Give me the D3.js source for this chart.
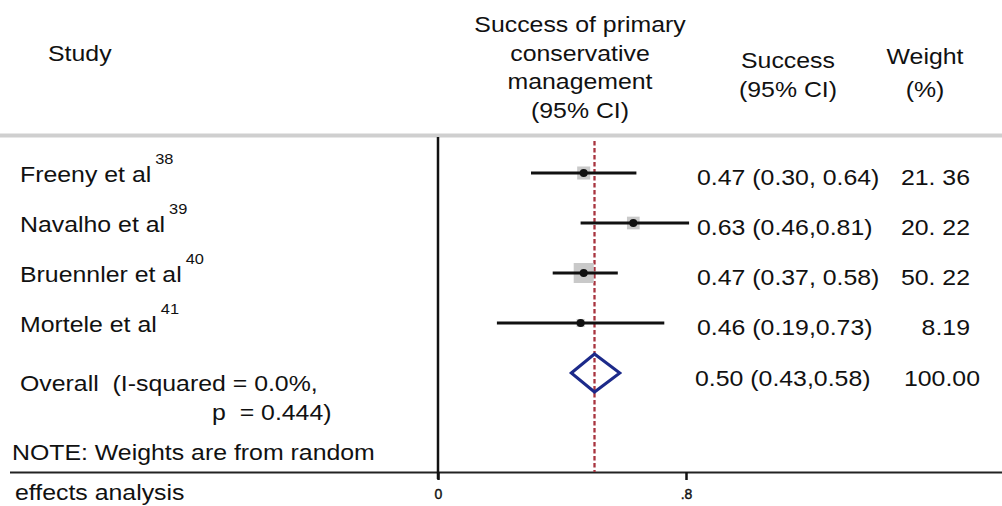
<!DOCTYPE html>
<html>
<head>
<meta charset="utf-8">
<script src="https://cdn.jsdelivr.net/npm/d3@7"></script>
<style>
  html, body { margin: 0; padding: 0; background: #fff; }
  svg { display: block; }
  text { font-family: "Liberation Sans", Arial, Helvetica, sans-serif; fill: #111; white-space: pre; }
</style>
</head>
<body>
<svg id="chart" width="1002" height="506"></svg>
<script>
// ---- data ----
const studies = ["Freeny et al", "Navalho et al", "Bruennler et al", "Mortele et al"];
const refs = ["38", "39", "40", "41"];
const estimates = [0.47, 0.63, 0.47, 0.46];
const lower = [0.30, 0.46, 0.37, 0.19];
const upper = [0.64, 0.81, 0.58, 0.73];
const weights = [21.36, 20.22, 50.22, 8.19];
const estLabels = ["0.47 (0.30, 0.64)", "0.63 (0.46,0.81)", "0.47 (0.37, 0.58)", "0.46 (0.19,0.73)"];
const weightLabels = ["21. 36", "20. 22", "50. 22", "8.19"];
const overallEst = 0.50, overallLo = 0.43, overallHi = 0.58;
const overallLabel = "0.50 (0.43,0.58)";
const overallWeight = "100.00";
const tickValues = [0, 0.8];
const tickLabels = ["0", ".8"];

// ---- layout ----
const svg = d3.select("#chart");
const SX = 1.13;          // horizontal stretch of the original figure
const FS = 22;

const x = d3.scaleLinear().domain([0, 0.8]).range([438, 686]);
const y = d3.scaleLinear().domain([0, 4]).range([173, 373]);
const side = d3.scaleSqrt().domain([0, 100]).range([0, 28.2]);

function txt(g, s, px, py, opts = {}) {
  const t = g.append("text")
    .attr("transform", `translate(${px},${py}) scale(${opts.sx || SX},1)`)
    .attr("font-size", opts.fs || FS)
    .attr("text-anchor", opts.anchor || "start")
    .text(s);
  return t;
}

// top grey rule
svg.append("rect").attr("x", 0).attr("y", 133.5).attr("width", 1002).attr("height", 4).attr("fill", "#cfcfcf");

// headers
const hdr = svg.append("g");
txt(hdr, "Study", 48, 61);
["Success of primary", "conservative", "management", "(95% CI)"].forEach((s, i) =>
  txt(hdr, s, 580, 32 + i * 28.7, { anchor: "middle" }));
txt(hdr, "Success", 788, 68, { anchor: "middle" });
txt(hdr, "(95% CI)", 788, 97, { anchor: "middle" });
txt(hdr, "Weight", 925, 64, { anchor: "middle" });
txt(hdr, "(%)", 925, 97, { anchor: "middle" });

// bottom horizontal rule
svg.append("line").attr("x1", 10).attr("x2", 1002).attr("y1", 472.5).attr("y2", 472.5)
  .attr("stroke", "#222").attr("stroke-width", 2.2);

// axis ticks
const axis = d3.axisBottom(x).tickValues(tickValues).tickSize(8)
  .tickFormat((d, i) => tickLabels[i]);
const ag = svg.append("g").attr("transform", "translate(0,472)").call(axis);
ag.select(".domain").remove();
ag.selectAll(".tick line").attr("stroke", "#111").attr("stroke-width", 2.5);
ag.selectAll(".tick text").attr("font-size", 14).attr("dy", 0).attr("y", 27)
  .attr("font-family", "Liberation Sans, Arial, sans-serif").attr("fill", "#111")
  .attr("stroke", "#111").attr("stroke-width", 0.4);

// vertical null line at 0
svg.append("line").attr("x1", x(0)).attr("x2", x(0)).attr("y1", 137).attr("y2", 479)
  .attr("stroke", "#111").attr("stroke-width", 2.5);

// overall dashed line
svg.append("line").attr("x1", x(overallEst) + 1.5).attr("x2", x(overallEst) + 1.5)
  .attr("y1", 141).attr("y2", 472)
  .attr("stroke", "#a8343f").attr("stroke-width", 2.3).attr("stroke-dasharray", "4.5,2.5");

// study rows
const rows = svg.append("g");
studies.forEach((s, i) => {
  const yy = y(i);
  // weight box
  const w = side(weights[i]);
  rows.append("rect").attr("x", x(estimates[i]) - w / 2).attr("y", yy - w / 2)
    .attr("width", w).attr("height", w).attr("fill", "#c9c9c9");
  // CI line
  rows.append("line").attr("x1", x(lower[i])).attr("x2", x(upper[i]))
    .attr("y1", yy).attr("y2", yy).attr("stroke", "#111").attr("stroke-width", 3);
  // point
  rows.append("circle").attr("cx", x(estimates[i])).attr("cy", yy).attr("r", 4).attr("fill", "#111");
  // label + superscript
  const t = txt(rows, s, 20, yy + 9);
  const len = t.node().getComputedTextLength() * SX;
  txt(rows, refs[i], 20 + len + 4, yy - 9, { fs: 14.5 });
  // estimate text
  txt(rows, estLabels[i], 697, yy + 12);
  txt(rows, weightLabels[i], 970, yy + 12, { anchor: "end" });
});

// overall diamond
const oy = y(4);
const dh = 19;
const diamond = [[x(overallLo), oy], [x(overallEst) + 1.5, oy - dh], [x(overallHi) + 2, oy], [x(overallEst) + 1.5, oy + dh]];
svg.append("path").attr("d", d3.line()(diamond) + "Z")
  .attr("fill", "none").attr("stroke", "#1c2a8a").attr("stroke-width", 3).attr("stroke-linejoin", "miter");

txt(svg, "Overall  (I-squared = 0.0%,", 20, 391);
txt(svg, "p  = 0.444)", 212, 420);
txt(svg, overallLabel, 695, 386);
txt(svg, overallWeight, 980, 386, { anchor: "end" });

txt(svg, "NOTE: Weights are from random", 12, 460);
txt(svg, "effects analysis", 15, 500);
</script>
</body>
</html>
